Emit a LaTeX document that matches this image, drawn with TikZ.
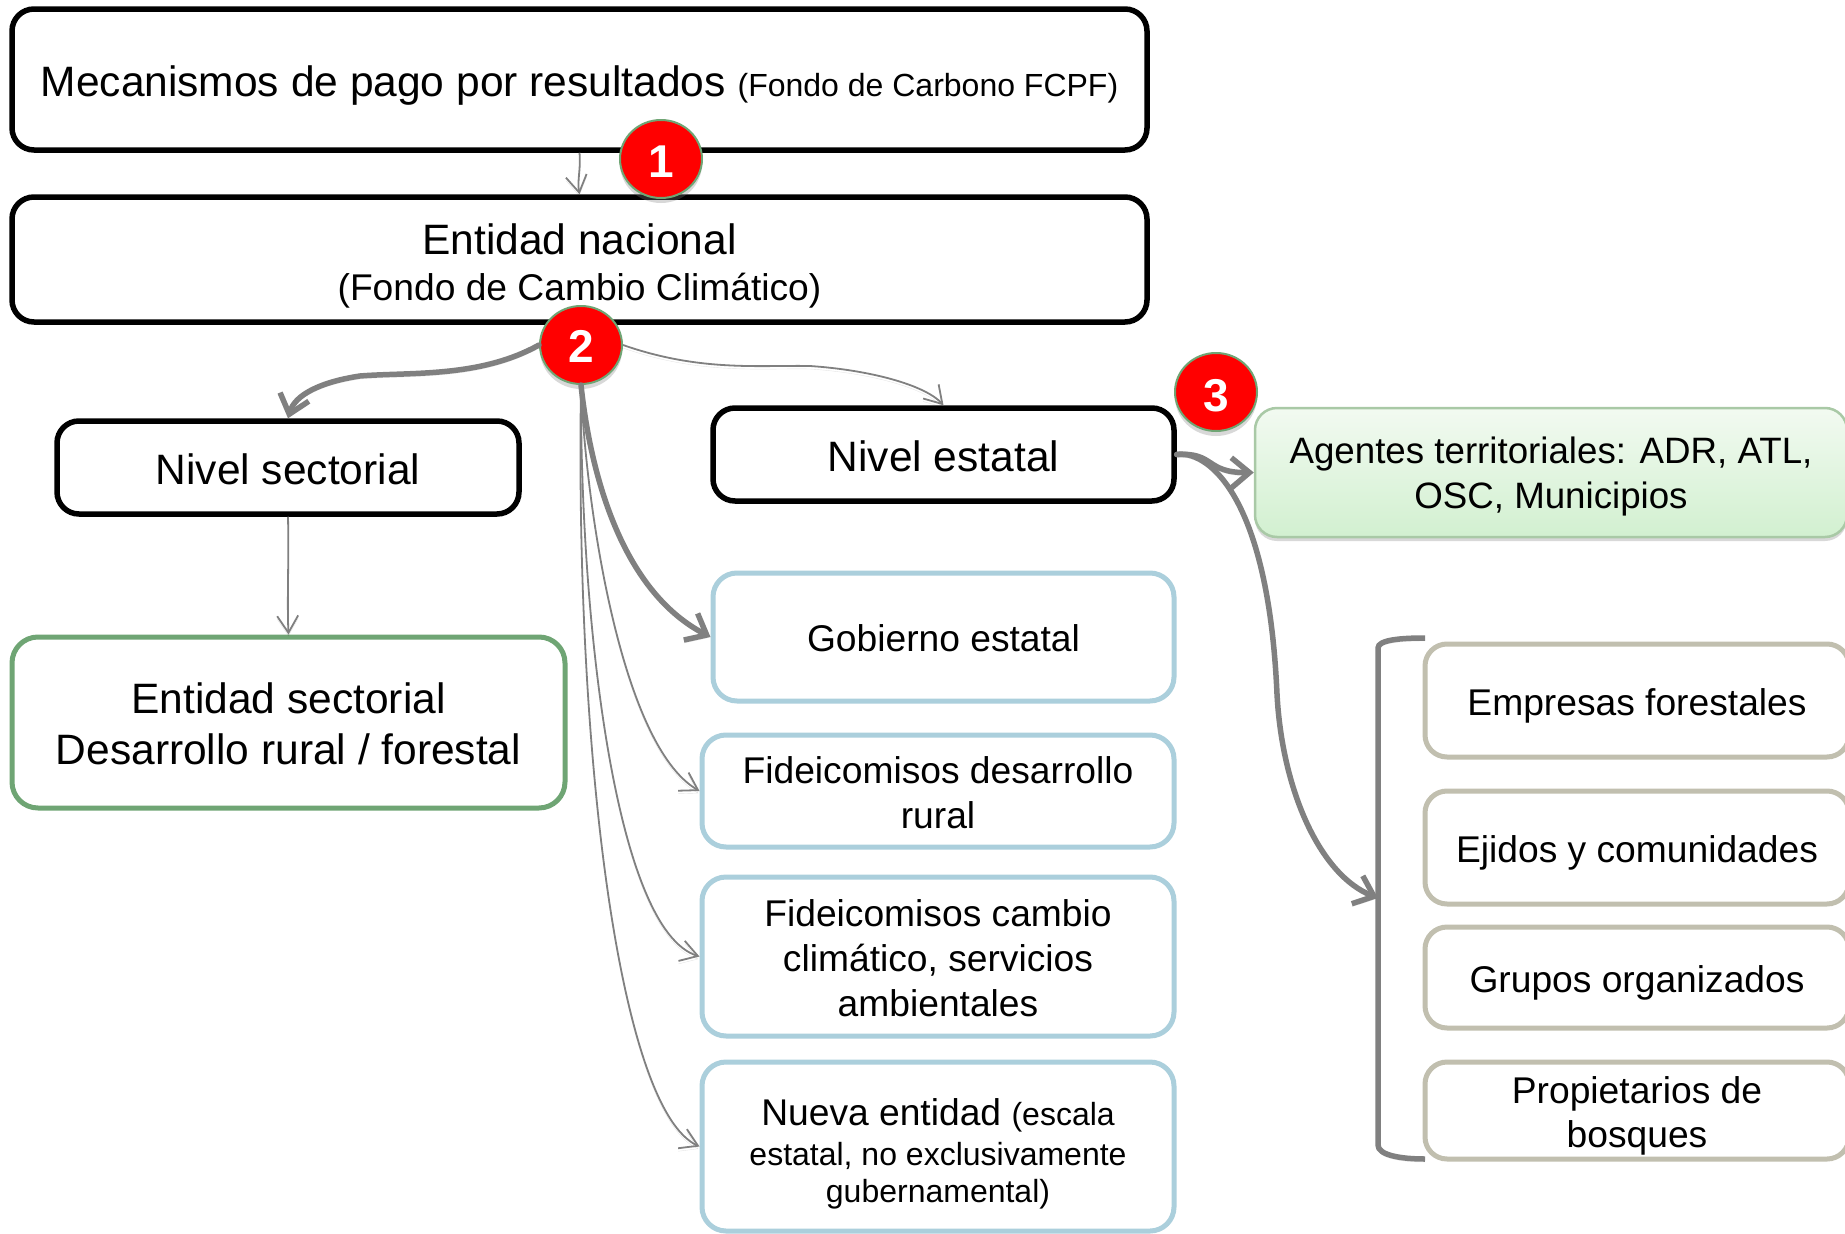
\documentclass[tikz,border=0pt]{standalone}
\usepackage{fontspec}
\setmainfont{Liberation Sans}
\usetikzlibrary{arrows.meta,shapes.geometric,shadows,calc}
\definecolor{cblue}{HTML}{ABCFDC}
\definecolor{ctaupe}{HTML}{C1BFAF}
\definecolor{cgreen}{HTML}{6FA574}
\definecolor{cagent}{HTML}{A9C9A6}
\definecolor{cagtop}{HTML}{F2FAF1}
\definecolor{cagbot}{HTML}{D2F0D0}
\definecolor{cgray}{HTML}{808080}
\newcommand\szXL{\fontsize{42.5}{50}\selectfont}
\newcommand\szL{\fontsize{37.2}{45}\selectfont}
\newcommand\szA{\fontsize{36.7}{45}\selectfont}
\newcommand\szM{\fontsize{32}{38}\selectfont}
% zero-width strut: moves the text of a centred node down by #1 pt
\newcommand\dn[1]{\rule{0pt}{\dimexpr.73em+2\dimexpr#1pt\relax\relax}}
\tikzset{
  x=1pt,y=-1pt,
  basebox/.style={rectangle,fill=white,align=center,inner sep=0pt,text=black},
  blackbox/.style={basebox,draw=black,line width=5.5pt,rounded corners=22pt,font=\szXL},
  bluebox/.style={basebox,draw=cblue,line width=5pt,rounded corners=24pt,font=\szL},
  taupebox/.style={basebox,draw=ctaupe,line width=5pt,rounded corners=22pt,font=\szL},
  greenbox/.style={basebox,draw=cgreen,line width=5pt,rounded corners=26pt,font=\szXL},
  agentbox/.style={rectangle,draw=cagent,line width=2.5pt,rounded corners=22pt,align=center,inner sep=0pt,
    top color=cagtop,bottom color=cagbot,font=\szA,
    drop shadow={opacity=.3,shadow xshift=0pt,shadow yshift=-4pt}},
  badge/.style={ellipse,draw=cgreen,line width=2pt,fill=red,text=white,inner sep=0pt,
    minimum width=82pt,minimum height=78pt,font=\fontsize{46}{50}\selectfont\bfseries,
    drop shadow={opacity=.3,shadow xshift=0pt,shadow yshift=-5pt}},
  connshadow/.style={preaction={draw=black,opacity=.1,transform canvas={yshift=-3pt}}},
  thinconn/.style={connshadow,draw=cgray,line width=1.8pt,-{Straight Barb[length=17pt,width=21pt]}},
  thickconn/.style={connshadow,draw=cgray,line width=5.5pt,line cap=round,-{Straight Barb[length=18pt,width=30pt]}},
  brackline/.style={connshadow,draw=cgray,line width=5.5pt}
}
\begin{document}
\begin{tikzpicture}
\useasboundingbox (0,0) rectangle (1845,1234);
\fill[white] (0,0) rectangle (1845,1234);
% boxes
\node[blackbox,minimum width=1135pt,minimum height=141pt] (mec) at (579.5,79.5)
  {\dn{6}Mecanismos de pago por resultados \szM(Fondo de Carbono FCPF)};
\node[blackbox,minimum width=1135pt,minimum height=125pt] (nac) at (579.5,259.5)
  {\dn{6.5}Entidad nacional\\[-4pt]\szL (Fondo de Cambio Climático)};
\node[blackbox,minimum width=462pt,minimum height=93pt] (sect) at (288,467.5) {\dn{2}Nivel sectorial};
\node[greenbox,minimum width=553pt,minimum height=171pt] (esect) at (288.5,722.5)
  {\dn{1}Entidad sectorial\\[1pt]Desarrollo rural / forestal};
\node[blackbox,minimum width=461pt,minimum height=93pt] (est) at (943.5,454.5) {\dn{2}Nivel estatal};
\node[bluebox,minimum width=461pt,minimum height=128pt] (gob) at (943.5,637) {\dn{1}Gobierno estatal};
\node[bluebox,minimum width=472pt,minimum height=112pt] (fdr) at (938,791)
  {\dn{2}Fideicomisos desarrollo\\rural};
\node[bluebox,minimum width=472pt,minimum height=159pt] (fcc) at (938,956.5)
  {\dn{2}Fideicomisos cambio\\climático, servicios\\ambientales};
\node[bluebox,minimum width=472pt,minimum height=169pt] (nue) at (938,1146.5)
  {\dn{7}Nueva entidad \szM(escala\\[-4.5pt]\szM estatal, no exclusivamente\\[-8pt]\szM gubernamental)};
\node[agentbox,minimum width=592pt,minimum height=129pt] (age) at (1551,472.5)
  {\dn{4}Agentes territoriales: ADR, ATL,\\OSC, Municipios};
\node[taupebox,minimum width=424pt,minimum height=113pt] (emp) at (1637,700.5) {\dn{5}Empresas forestales};
\node[taupebox,minimum width=424pt,minimum height=113pt] (eji) at (1637,847.5) {\dn{5}Ejidos y comunidades};
\node[taupebox,minimum width=424pt,minimum height=101pt] (gru) at (1637,977.5) {\dn{5}Grupos organizados};
\node[taupebox,minimum width=424pt,minimum height=97pt] (pro) at (1637,1110.5) {\dn{5}Propietarios de\\[-1pt]bosques};
% badges
\node[badge] (c1) at (661,159) {\dn{2}1};
\node[badge] (c2) at (581,345) {\dn{1}2};
\node[badge] (c3) at (1216,392) {\dn{3}3};
% bracket
\coordinate (brt) at (1425,638);
\coordinate (brb) at (1425,1159);
\coordinate (brm) at (1378,898);
\draw[brackline] (brt) .. controls (1400,638) and (1378,640) .. (1378,648) -- (1378,1145)
  .. controls (1378,1155) and (1400,1159) .. (brb);
% connectors
\draw[thinconn] (mec.south) .. controls (581,170) and (577,180) .. (nac.north);
\draw[thickconn] (c2.west) .. controls (480,378) and (410,372) .. (360,376)
  .. controls (320,382) and (295,395) .. (sect.north);
\draw[thinconn] (c2.east) .. controls (700,372) and (760,365) .. (810,366)
  .. controls (870,370) and (925,385) .. (est.north);
\draw[thinconn] (sect.south) .. controls (289,560) and (287,600) .. (esect.north);
\draw[thickconn] (c2.south) .. controls (590,470) and (620,590) .. (gob.west);
\draw[thinconn] (c2.south) .. controls (585,500) and (620,745) .. (fdr.west);
\draw[thinconn] (c2.south) .. controls (580,620) and (615,930) .. (fcc.west);
\draw[thinconn] (c2.south) .. controls (575,760) and (620,1110) .. (nue.west);
\draw[thickconn] (est.east) .. controls (1215,452) and (1205,473) .. (age.west);
\draw[thickconn] (est.east) .. controls (1205,450) and (1268,490) .. (1277,694)
  .. controls (1282,790) and (1320,875) .. (brm);
\end{tikzpicture}
\end{document}
